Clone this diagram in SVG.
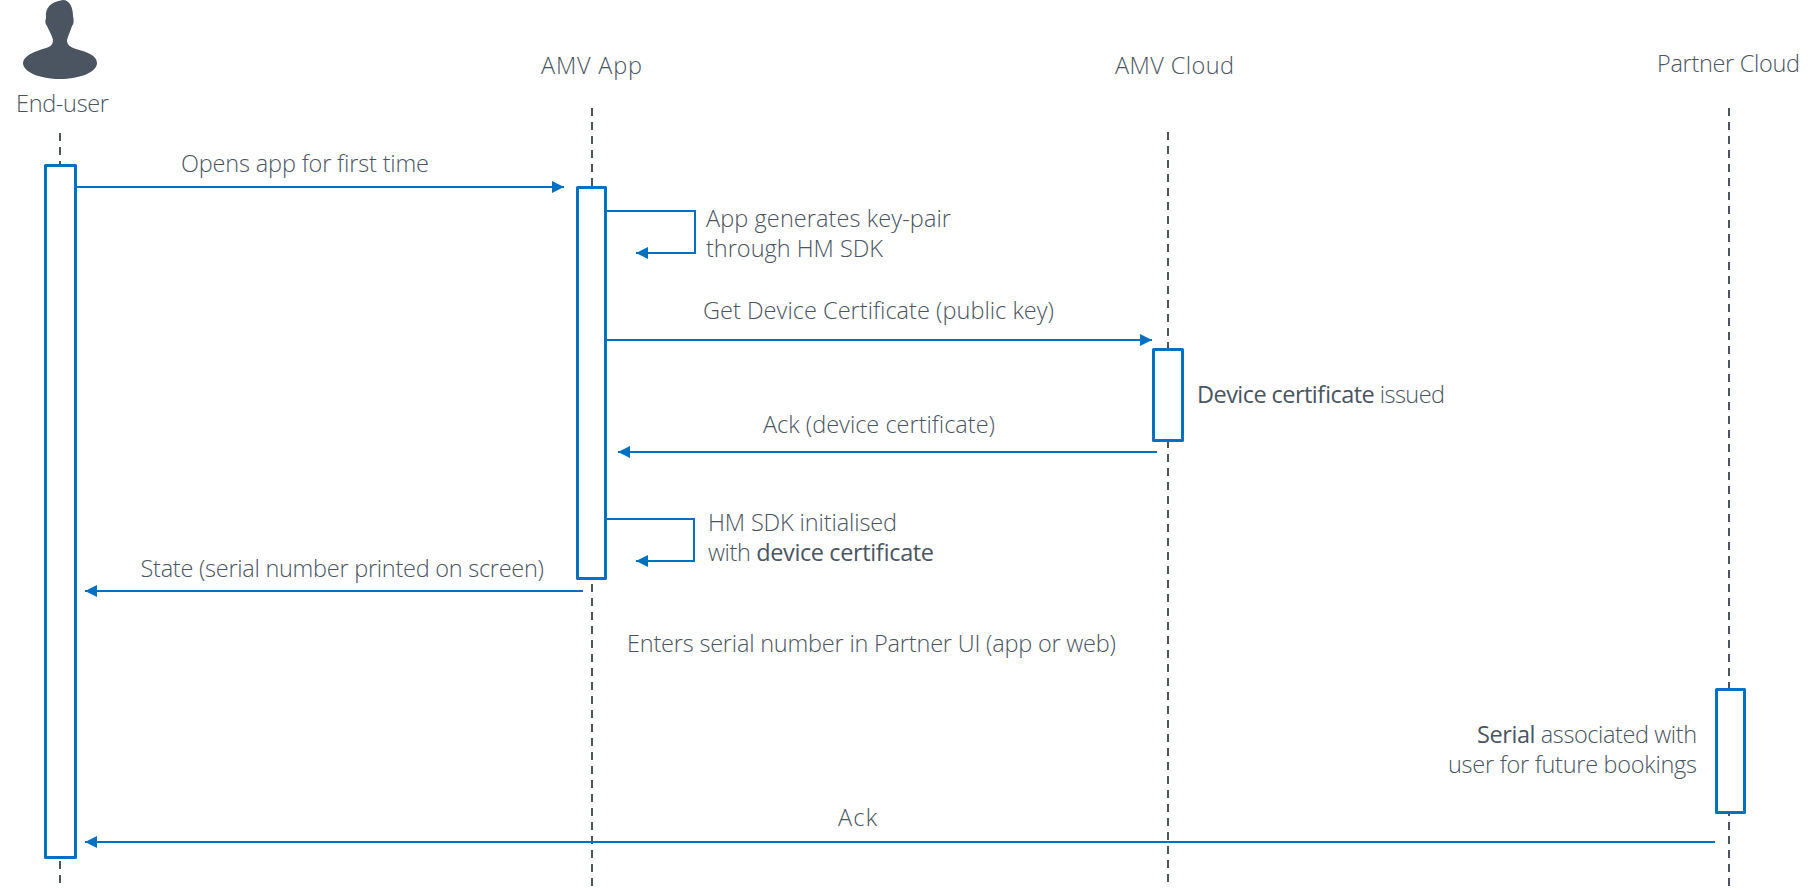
<svg xmlns="http://www.w3.org/2000/svg" width="1816" height="888" viewBox="0 0 1816 888">
<style>
text{font-family:"Open Sans","Noto Sans","Liberation Sans",sans-serif;font-weight:300;font-size:23.5px;fill:#4a5561}
.b{font-weight:400}
.life{stroke:#4a5561;stroke-width:2;stroke-dasharray:8 6;fill:none}
.act{fill:#fff;stroke:#0070c0;stroke-width:3;stroke-linejoin:round}
.msg{stroke:#0070c0;stroke-width:2;fill:none;marker-end:url(#ah)}
</style>
<defs><marker id="ah" markerUnits="userSpaceOnUse" markerWidth="13" markerHeight="12" refX="12" refY="6" orient="auto"><path d="M0 0L12 6L0 12Z" fill="#0070c0"/></marker></defs>
<rect width="1816" height="888" fill="#fff"/>
<g id="lifelines">
<path class="life" d="M60 133V885"/><path class="life" d="M592 108V887"/><path class="life" d="M1168 132V887"/><path class="life" d="M1729 108V887"/>
</g>
<g id="end-user">
<path fill="#4a5561" d="M63 0C70 0 73 8 73 16C74 20 74 24 72 26C70 32 68 36 67 40C67 45 70 47 76 49C88 52 97 56 97 63C97 72 80 79 60 79C40 79 23 72 23 63C23 56 35 51 46 48C50 47 53 45 53 40C52 35 49 31 47 26C45 24 45 21 46 18C45 8 50 2 63 0Z"/>
<text x="16" y="111.5" textLength="93">End-user</text>
<rect class="act" x="45.5" y="165.5" width="30" height="692"/>
</g>
<g id="amv-app">
<text x="541" y="73.5" textLength="101">AMV App</text>
<rect class="act" x="577.5" y="187.5" width="28" height="391"/>
</g>
<g id="amv-cloud">
<text x="1115" y="74" textLength="119">AMV Cloud</text>
<rect class="act" x="1153.5" y="349.5" width="29" height="91"/>
</g>
<g id="partner-cloud">
<text x="1657" y="72" textLength="143">Partner Cloud</text>
<rect class="act" x="1716.5" y="689.5" width="28" height="123"/>
</g>
<g id="connectors">
<path class="msg" d="M76 187H564"/>
<path class="msg" d="M606 211H695V253H636"/>
<path class="msg" d="M606 340H1152"/>
<path class="msg" d="M1157 452H618"/>
<path class="msg" d="M606 519H694V561H636"/>
<path class="msg" d="M583 591H85"/>
<path class="msg" d="M1715 842H85"/>
</g>
<g id="labels">
<text x="181" y="172" textLength="248">Opens app for first time</text>
<text x="706" y="227" textLength="245">App generates key-pair</text>
<text x="706" y="257" textLength="177">through HM SDK</text>
<text x="703" y="319" textLength="351">Get Device Certificate (public key)</text>
<text x="763" y="433" textLength="232">Ack (device certificate)</text>
<text x="1197" y="403" textLength="248"><tspan class="b">Device certificate</tspan> issued</text>
<text x="708" y="530.5" textLength="189">HM SDK initialised</text>
<text x="708" y="560.5" textLength="226">with <tspan class="b">device certificate</tspan></text>
<text x="140.5" y="577" textLength="403.5">State (serial number printed on screen)</text>
<text x="627" y="652" textLength="489">Enters serial number in Partner UI (app or web)</text>
<text x="1477" y="743" textLength="220"><tspan class="b">Serial</tspan> associated with</text>
<text x="1448" y="773" textLength="249">user for future bookings</text>
<text x="838" y="826" textLength="39">Ack</text>
</g>
</svg>
